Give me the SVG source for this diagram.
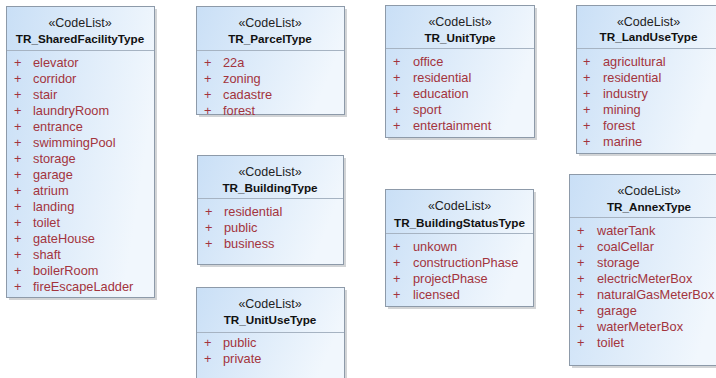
<svg xmlns="http://www.w3.org/2000/svg" width="716" height="378" viewBox="0 0 716 378">
<defs>
<linearGradient id="fill" x1="0" y1="0" x2="1" y2="0.3">
<stop offset="0" stop-color="#c9dff6"/>
<stop offset="1" stop-color="#f1f7fd"/>
</linearGradient>
</defs>
<style>
.shadow{fill:#d2d4d6}
.box{fill:url(#fill);stroke:#8d9aa9;stroke-width:1}
.sep{stroke:#a6b3c2;stroke-width:1}
.st{font-family:"Liberation Sans",Arial,sans-serif;font-size:12.5px;fill:#222;text-anchor:middle}
.ti{font-family:"Liberation Sans",Arial,sans-serif;font-size:11.7px;font-weight:bold;fill:#111;text-anchor:middle}
.it{font-family:"Liberation Sans",Arial,sans-serif;font-size:12.8px;fill:#a3343d}
</style>
<rect width="716" height="378" fill="#ffffff"/>
<g id="connectors"/>

<g id="TR_SharedFacilityType">
<rect class="shadow" x="9" y="9" width="148" height="291"/>
<rect class="box" x="6.5" y="6.5" width="148" height="291"/>
<line class="sep" x1="7" y1="50.5" x2="154" y2="50.5"/>
<text class="st" x="80" y="27">«CodeList»</text>
<text class="ti" x="80" y="43">TR_SharedFacilityType</text>
<g class="it">
<text x="14" y="67">+</text><text x="33" y="67">elevator</text>
<text x="14" y="83">+</text><text x="33" y="83">corridor</text>
<text x="14" y="99">+</text><text x="33" y="99">stair</text>
<text x="14" y="115">+</text><text x="33" y="115">laundryRoom</text>
<text x="14" y="131">+</text><text x="33" y="131">entrance</text>
<text x="14" y="147">+</text><text x="33" y="147">swimmingPool</text>
<text x="14" y="163">+</text><text x="33" y="163">storage</text>
<text x="14" y="179">+</text><text x="33" y="179">garage</text>
<text x="14" y="195">+</text><text x="33" y="195">atrium</text>
<text x="14" y="211">+</text><text x="33" y="211">landing</text>
<text x="14" y="227">+</text><text x="33" y="227">toilet</text>
<text x="14" y="243">+</text><text x="33" y="243">gateHouse</text>
<text x="14" y="259">+</text><text x="33" y="259">shaft</text>
<text x="14" y="275">+</text><text x="33" y="275">boilerRoom</text>
<text x="14" y="291">+</text><text x="33" y="291">fireEscapeLadder</text>
</g>
</g>

<g id="TR_ParcelType">
<rect class="shadow" x="199" y="9" width="148" height="108"/>
<rect class="box" x="196.5" y="6.5" width="148" height="108"/>
<line class="sep" x1="197" y1="50.5" x2="344" y2="50.5"/>
<text class="st" x="270" y="27">«CodeList»</text>
<text class="ti" x="270" y="43">TR_ParcelType</text>
<g class="it">
<text x="204" y="67">+</text><text x="223" y="67">22a</text>
<text x="204" y="83">+</text><text x="223" y="83">zoning</text>
<text x="204" y="99">+</text><text x="223" y="99">cadastre</text>
<text x="204" y="115">+</text><text x="223" y="115">forest</text>
</g>
</g>

<g id="TR_BuildingType">
<rect class="shadow" x="200" y="158" width="146" height="109"/>
<rect class="box" x="197.5" y="155.5" width="146" height="109"/>
<line class="sep" x1="198" y1="198.5" x2="343" y2="198.5"/>
<text class="st" x="270" y="176">«CodeList»</text>
<text class="ti" x="270" y="192">TR_BuildingType</text>
<g class="it">
<text x="205" y="216">+</text><text x="224" y="216">residential</text>
<text x="205" y="232">+</text><text x="224" y="232">public</text>
<text x="205" y="248">+</text><text x="224" y="248">business</text>
</g>
</g>

<g id="TR_UnitUseType">
<rect class="shadow" x="199" y="290" width="148" height="100"/>
<rect class="box" x="196.5" y="287.5" width="148" height="100"/>
<line class="sep" x1="197" y1="332.5" x2="344" y2="332.5"/>
<text class="st" x="270" y="308">«CodeList»</text>
<text class="ti" x="270" y="324">TR_UnitUseType</text>
<g class="it">
<text x="204" y="347">+</text><text x="223" y="347">public</text>
<text x="204" y="363">+</text><text x="223" y="363">private</text>
</g>
</g>

<g id="TR_UnitType">
<rect class="shadow" x="388" y="8" width="149" height="132"/>
<rect class="box" x="385.5" y="5.5" width="149" height="132"/>
<line class="sep" x1="386" y1="48.5" x2="534" y2="48.5"/>
<text class="st" x="460" y="26">«CodeList»</text>
<text class="ti" x="460" y="42">TR_UnitType</text>
<g class="it">
<text x="393" y="66">+</text><text x="413" y="66">office</text>
<text x="393" y="82">+</text><text x="413" y="82">residential</text>
<text x="393" y="98">+</text><text x="413" y="98">education</text>
<text x="393" y="114">+</text><text x="413" y="114">sport</text>
<text x="393" y="130">+</text><text x="413" y="130">entertainment</text>
</g>
</g>

<g id="TR_BuildingStatusType">
<rect class="shadow" x="388" y="192" width="148" height="117"/>
<rect class="box" x="385.5" y="189.5" width="148" height="117"/>
<line class="sep" x1="386" y1="233.5" x2="533" y2="233.5"/>
<text class="st" x="459.5" y="210">«CodeList»</text>
<text class="ti" x="459.5" y="227">TR_BuildingStatusType</text>
<g class="it">
<text x="393" y="251">+</text><text x="413" y="251">unkown</text>
<text x="393" y="267">+</text><text x="413" y="267">constructionPhase</text>
<text x="393" y="283">+</text><text x="413" y="283">projectPhase</text>
<text x="393" y="299">+</text><text x="413" y="299">licensed</text>
</g>
</g>

<g id="TR_LandUseType">
<rect class="shadow" x="579" y="8" width="144" height="148"/>
<rect class="box" x="576.5" y="5.5" width="144" height="148"/>
<line class="sep" x1="577" y1="48.5" x2="720" y2="48.5"/>
<text class="st" x="648.5" y="26">«CodeList»</text>
<text class="ti" x="648.5" y="41">TR_LandUseType</text>
<g class="it">
<text x="583" y="66">+</text><text x="603" y="66">agricultural</text>
<text x="583" y="82">+</text><text x="603" y="82">residential</text>
<text x="583" y="98">+</text><text x="603" y="98">industry</text>
<text x="583" y="114">+</text><text x="603" y="114">mining</text>
<text x="583" y="130">+</text><text x="603" y="130">forest</text>
<text x="583" y="146">+</text><text x="603" y="146">marine</text>
</g>
</g>

<g id="TR_AnnexType">
<rect class="shadow" x="572" y="177" width="160" height="191"/>
<rect class="box" x="569.5" y="174.5" width="160" height="191"/>
<line class="sep" x1="570" y1="217.5" x2="729" y2="217.5"/>
<text class="st" x="649" y="195">«CodeList»</text>
<text class="ti" x="649" y="211">TR_AnnexType</text>
<g class="it">
<text x="577" y="235">+</text><text x="597" y="235">waterTank</text>
<text x="577" y="251">+</text><text x="597" y="251">coalCellar</text>
<text x="577" y="267">+</text><text x="597" y="267">storage</text>
<text x="577" y="283">+</text><text x="597" y="283">electricMeterBox</text>
<text x="577" y="299">+</text><text x="597" y="299">naturalGasMeterBox</text>
<text x="577" y="315">+</text><text x="597" y="315">garage</text>
<text x="577" y="331">+</text><text x="597" y="331">waterMeterBox</text>
<text x="577" y="347">+</text><text x="597" y="347">toilet</text>
</g>
</g>
</svg>
